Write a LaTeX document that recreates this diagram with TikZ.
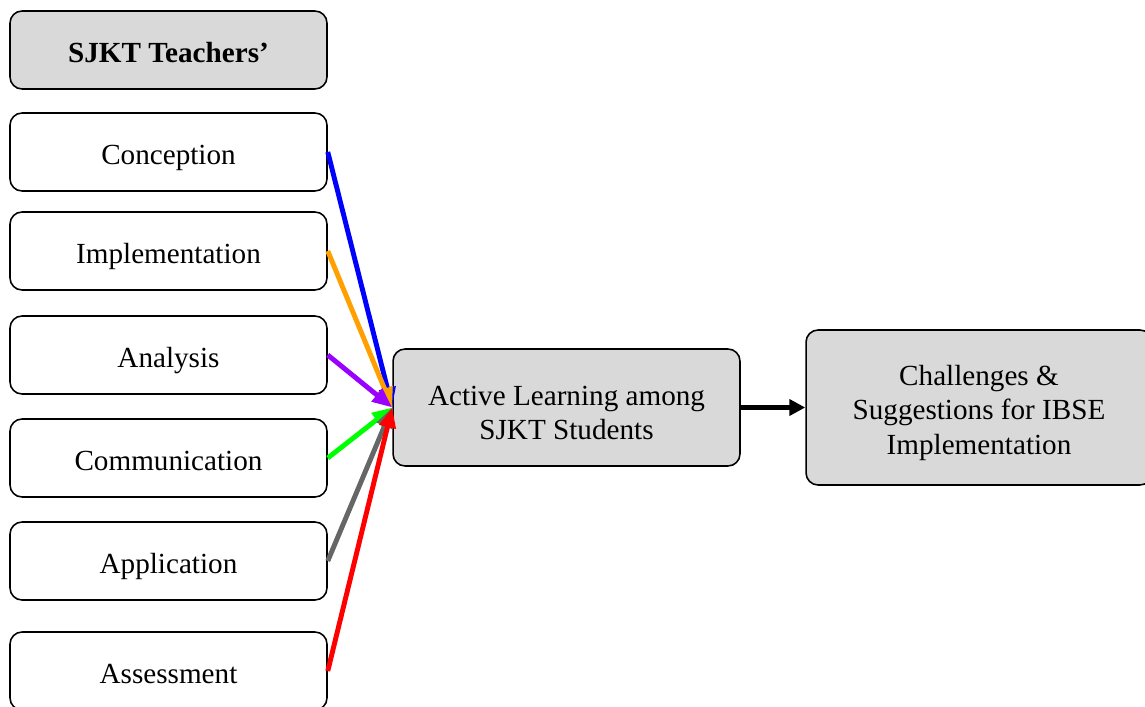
\documentclass[tikz,border=0pt]{standalone}
\usepackage{fontspec}
\setmainfont{Liberation Serif}
\usetikzlibrary{arrows.meta}

\definecolor{boxgray}{RGB}{217,217,217}
\definecolor{lineorange}{RGB}{255,160,0}
\definecolor{linepurple}{RGB}{153,0,255}
\definecolor{linegreen}{RGB}{0,255,0}
\definecolor{linegray}{RGB}{102,102,102}
\newcommand{\toppad}{\rule{0pt}{17.5pt}}

\begin{document}
\begin{tikzpicture}[x=0.02cm,y=-0.02cm,
  every node/.style = {font=\fontsize{16.6}{19.5}\selectfont},
  box/.style = {draw,rounded corners=0.24cm,line width=0.9pt,align=center},
  aspect/.style = {box,minimum width=6.34cm,minimum height=1.56cm,text height=14.6pt,text depth=0pt},
  stage/.style = {box,fill=boxgray},
  link/.style = {line width=2.8pt,-{Triangle[length=0.4cm,width=0.32cm]}}]
\useasboundingbox (0,0) rectangle (1145,706);
\node[aspect,fill=boxgray] (head) at (168.5,50) {\textbf{SJKT Teachers’}};
\node[aspect] (conc) at (168.5,152) {Conception};
\node[aspect] (impl) at (168.5,251) {Implementation};
\node[aspect] (anal) at (168.5,355) {Analysis};
\node[aspect] (comm) at (168.5,458) {Communication};
\node[aspect] (appl) at (168.5,561) {Application};
\node[aspect] (asse) at (168.5,671) {Assessment};
\node[stage,minimum width=6.94cm,minimum height=2.34cm] (active) at (566.5,407.5) {\toppad Active Learning among\\SJKT Students};
\node[stage,minimum width=6.92cm,minimum height=3.1cm] (chal) at (979,407.5) {\toppad Challenges \&\\Suggestions for IBSE\\Implementation};
% colour links into the active learning box
\draw[link,blue] (conc.east) -- (active.west);
\draw[link,lineorange] (impl.east) -- (active.west);
\draw[link,linepurple] (anal.east) -- (active.west);
\draw[link,linegreen] (comm.east) -- (active.west);
\draw[link,linegray] (appl.east) -- (active.west);
\draw[link,red] (asse.east) -- (active.west);
\draw[line width=2.8pt,-{Triangle[length=0.32cm,width=0.32cm]}] (active) -- (chal);
\end{tikzpicture}
\end{document}
